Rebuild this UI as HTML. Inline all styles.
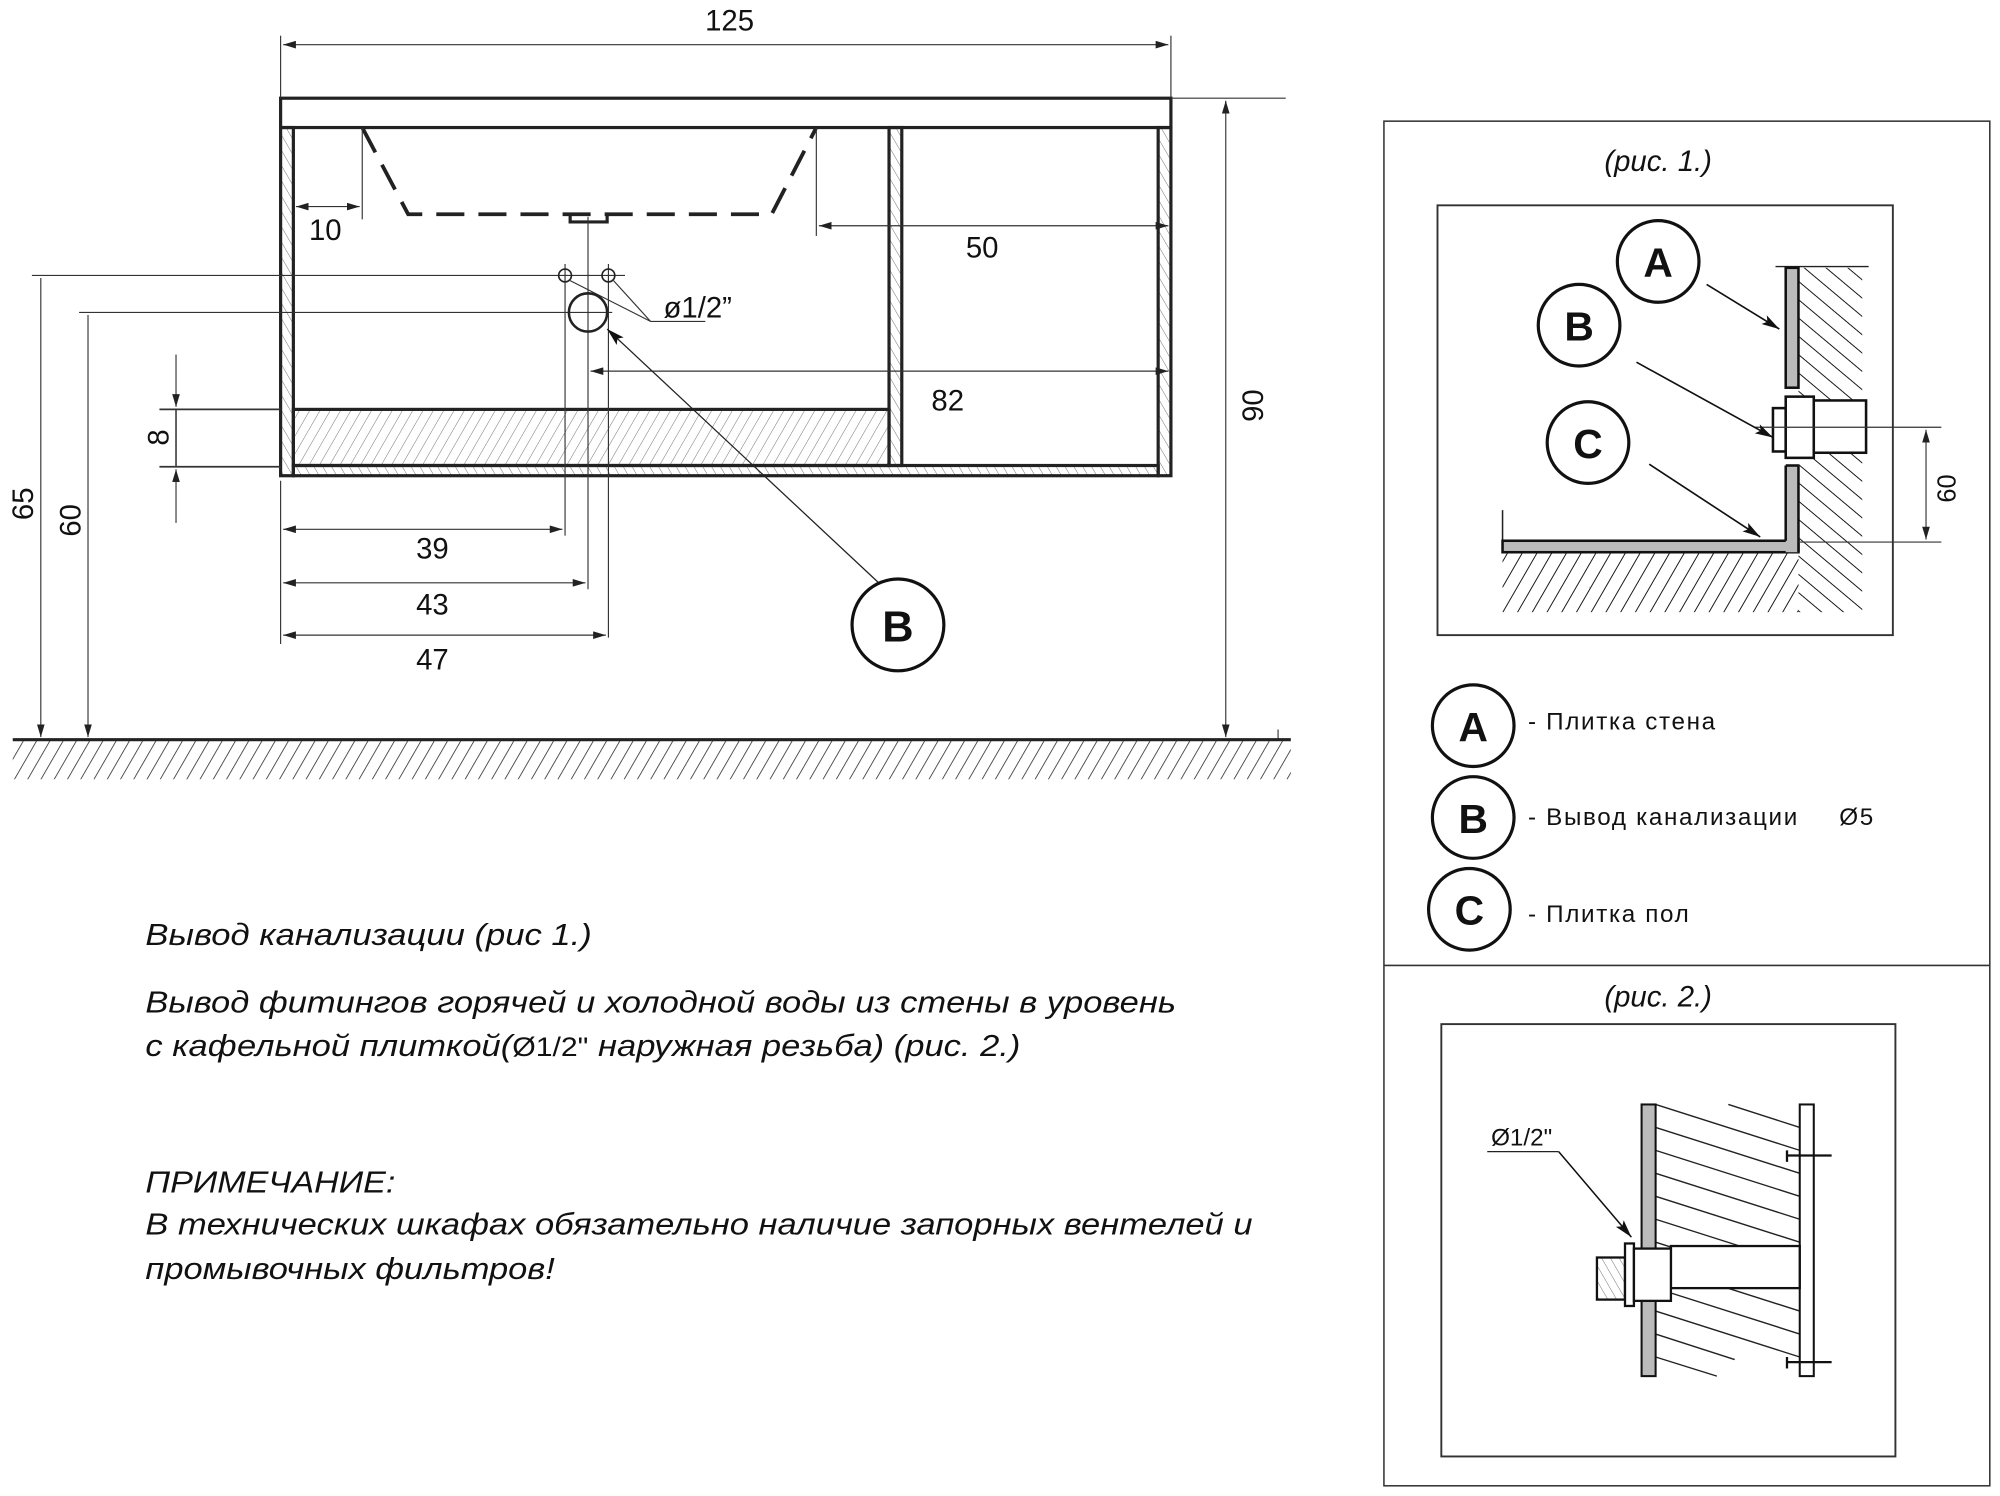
<!DOCTYPE html>
<html><head><meta charset="utf-8"><style>
html,body{margin:0;padding:0;background:#fff;}
svg{display:block;}
text{font-family:"Liberation Sans",sans-serif;fill:#111;}
</style></head><body>
<svg width="2000" height="1496" viewBox="0 0 1568 1173" preserveAspectRatio="none" xmlns="http://www.w3.org/2000/svg">
<defs>
<pattern id="h1" patternUnits="userSpaceOnUse" width="7" height="7" patternTransform="rotate(30)"><line x1="0" y1="0" x2="0" y2="7" stroke="#777" stroke-width="0.8"/></pattern>
<pattern id="h2" patternUnits="userSpaceOnUse" width="6" height="6" patternTransform="rotate(-30)"><line x1="0" y1="0" x2="0" y2="6" stroke="#777" stroke-width="0.8"/></pattern>
<pattern id="hg" patternUnits="userSpaceOnUse" width="9" height="9" patternTransform="rotate(30)"><line x1="0" y1="0" x2="0" y2="9" stroke="#222" stroke-width="1.2"/></pattern>
<pattern id="hw" patternUnits="userSpaceOnUse" width="11" height="11" patternTransform="rotate(-50)"><line x1="0" y1="0" x2="0" y2="11" stroke="#111" stroke-width="1.5"/></pattern>
<pattern id="hf" patternUnits="userSpaceOnUse" width="10" height="10" patternTransform="rotate(30)"><line x1="0" y1="0" x2="0" y2="10" stroke="#111" stroke-width="1.5"/></pattern>
<marker id="a" viewBox="0 0 10 6" refX="10" refY="3" markerWidth="10" markerHeight="6" orient="auto-start-reverse" markerUnits="userSpaceOnUse"><path d="M0,0 L10,3 L0,6z" fill="#222"/></marker>
<marker id="ab" viewBox="0 0 14 8" refX="14" refY="4" markerWidth="14" markerHeight="8" orient="auto" markerUnits="userSpaceOnUse"><path d="M0,0 L14,4 L0,8 L3,4z" fill="#111"/></marker>
</defs>

<!-- cabinet -->
<g stroke="#222" fill="none">
<rect x="220" y="77" width="698" height="23" stroke-width="2.5"/>
<rect x="220" y="100" width="10" height="273" fill="url(#h2)" stroke-width="2.5"/>
<rect x="908" y="100" width="10" height="273" fill="url(#h2)" stroke-width="2.5"/>
<rect x="697" y="100" width="10" height="265" fill="url(#h2)" stroke-width="2.5"/>
<rect x="230" y="321" width="467" height="44" fill="url(#h1)" stroke-width="2.5"/>
<rect x="230" y="365" width="678" height="8" fill="url(#h2)" stroke-width="2.5"/>
<polyline points="284,100 320,168 605,168 640,100" stroke-width="3" stroke-dasharray="22,11"/>
<polyline points="447,168 447,174 476,174 476,168" stroke-width="2.5"/>
</g>

<!-- dimension lines -->
<g stroke="#333" stroke-width="0.9" fill="none">
<line x1="220" y1="28" x2="220" y2="77"/><line x1="918" y1="28" x2="918" y2="77"/>
<line x1="222" y1="35" x2="916" y2="35" marker-start="url(#a)" marker-end="url(#a)"/>
<line x1="284" y1="100" x2="284" y2="172"/>
<line x1="232" y1="162" x2="282" y2="162" marker-start="url(#a)" marker-end="url(#a)"/>
<line x1="640" y1="100" x2="640" y2="185"/>
<line x1="642" y1="177" x2="916" y2="177" marker-start="url(#a)" marker-end="url(#a)"/>
<line x1="25" y1="216" x2="490" y2="216"/>
<line x1="62" y1="245" x2="480" y2="245"/>
<line x1="443" y1="207" x2="443" y2="420"/>
<line x1="461" y1="170" x2="461" y2="462"/>
<line x1="477" y1="207" x2="477" y2="500"/>
<line x1="463" y1="291" x2="916" y2="291" marker-start="url(#a)" marker-end="url(#a)"/>
<line x1="220" y1="377" x2="220" y2="505"/>
<line x1="222" y1="415" x2="441" y2="415" marker-start="url(#a)" marker-end="url(#a)"/>
<line x1="222" y1="457" x2="459" y2="457" marker-start="url(#a)" marker-end="url(#a)"/>
<line x1="222" y1="498" x2="475" y2="498" marker-start="url(#a)" marker-end="url(#a)"/>
<line x1="125" y1="321" x2="220" y2="321" stroke-width="1.4"/>
<line x1="125" y1="366" x2="220" y2="366" stroke-width="1.4"/>
<line x1="138" y1="278" x2="138" y2="319" marker-end="url(#a)"/>
<line x1="138" y1="321" x2="138" y2="366" stroke-width="1.2"/>
<line x1="138" y1="410" x2="138" y2="368" marker-end="url(#a)"/>
<line x1="32" y1="218" x2="32" y2="578" marker-end="url(#a)"/>
<line x1="69" y1="247" x2="69" y2="578" marker-end="url(#a)"/>
<line x1="918" y1="77" x2="1008" y2="77"/>
<line x1="961" y1="79" x2="961" y2="578" marker-start="url(#a)" marker-end="url(#a)"/>
<line x1="1002" y1="572" x2="1002" y2="580"/>
<line x1="447" y1="220" x2="510" y2="252"/><line x1="481" y1="220" x2="510" y2="252"/>
<line x1="510" y1="252" x2="553" y2="252"/>
</g>
<circle cx="443" cy="216" r="5" fill="none" stroke="#222" stroke-width="1.3"/>
<circle cx="477" cy="216" r="5" fill="none" stroke="#222" stroke-width="1.3"/>
<circle cx="461" cy="245" r="15" fill="none" stroke="#222" stroke-width="2"/>
<line x1="690" y1="458" x2="476" y2="258" stroke="#222" stroke-width="1" marker-end="url(#ab)"/>
<circle cx="704" cy="490" r="36" fill="#fff" stroke="#111" stroke-width="2.5"/>
<text x="704" y="503" font-size="34" font-weight="bold" text-anchor="middle">B</text>

<!-- ground -->
<line x1="10" y1="580" x2="1012" y2="580" stroke="#222" stroke-width="2.5"/>
<rect x="10" y="581" width="1002" height="30" fill="url(#hg)"/>

<g font-size="23" text-anchor="middle">
<text x="572" y="24">125</text>
<text x="255" y="188">10</text>
<text x="770" y="202">50</text>
<text x="743" y="322">82</text>
<text x="339" y="438">39</text>
<text x="339" y="482">43</text>
<text x="339" y="525">47</text>
<text x="547" y="249">ø1/2”</text>
<text transform="translate(132,343) rotate(-90)">8</text>
<text transform="translate(26,395) rotate(-90)">65</text>
<text transform="translate(63,408) rotate(-90)">60</text>
<text transform="translate(990,318) rotate(-90)">90</text>
</g>

<!-- left text -->
<g font-size="24" font-style="italic" fill="#222" lengthAdjust="spacingAndGlyphs">
<text x="114" y="741" textLength="350" lengthAdjust="spacingAndGlyphs">Вывод канализации (рис 1.)</text>
<text x="114" y="794" textLength="808" lengthAdjust="spacingAndGlyphs">Вывод фитингов горячей и холодной воды из стены в уровень</text>
<text x="114" y="828" textLength="686" lengthAdjust="spacingAndGlyphs">с кафельной плиткой(<tspan font-style="normal" font-size="21">Ø1/2"</tspan> наружная резьба) (рис. 2.)</text>
<text x="114" y="935" textLength="196" lengthAdjust="spacingAndGlyphs">ПРИМЕЧАНИЕ:</text>
<text x="114" y="968" textLength="868" lengthAdjust="spacingAndGlyphs">В технических шкафах обязательно наличие запорных вентелей и</text>
<text x="114" y="1003" textLength="321" lengthAdjust="spacingAndGlyphs">промывочных фильтров!</text>
</g>

<!-- right panel -->
<rect x="1085" y="95" width="475" height="1070" fill="none" stroke="#333" stroke-width="1.2"/>
<line x1="1085" y1="757" x2="1560" y2="757" stroke="#333" stroke-width="1.2"/>
<text x="1300" y="134" font-size="23" font-style="italic" text-anchor="middle">(рис. 1.)</text>
<text x="1300" y="789" font-size="23" font-style="italic" text-anchor="middle">(рис. 2.)</text>
<rect x="1127" y="161" width="357" height="337" fill="none" stroke="#333" stroke-width="1.5"/>

<!-- fig1 -->
<rect x="1410" y="210" width="50" height="270" fill="url(#hw)"/>
<rect x="1178" y="433" width="232" height="47" fill="url(#hf)"/>
<line x1="1392" y1="209" x2="1465" y2="209" stroke="#222" stroke-width="1"/>
<line x1="1178" y1="400" x2="1178" y2="425" stroke="#222" stroke-width="1.2"/>
<g stroke="#111" stroke-width="2" fill="#bbb">
<rect x="1400" y="210" width="10" height="94"/>
<rect x="1178" y="424" width="232" height="9"/>
<rect x="1400" y="365" width="10" height="68" stroke="none"/>
</g>
<line x1="1400" y1="365" x2="1400" y2="424" stroke="#111" stroke-width="2"/>
<line x1="1410" y1="365" x2="1410" y2="433" stroke="#111" stroke-width="2"/>
<line x1="1400" y1="365" x2="1410" y2="365" stroke="#111" stroke-width="2"/>
<g stroke="#111" stroke-width="2" fill="#fff">
<rect x="1390" y="320" width="10" height="34"/>
<rect x="1400" y="311" width="22" height="48"/>
<rect x="1422" y="314" width="41" height="41"/>
</g>
<g stroke="#333" stroke-width="0.9">
<line x1="1375" y1="335" x2="1522" y2="335"/>
<line x1="1410" y1="425" x2="1522" y2="425"/>
<line x1="1510" y1="337" x2="1510" y2="423" marker-start="url(#a)" marker-end="url(#a)"/>
</g>
<text transform="translate(1533,383) rotate(-90)" font-size="20" text-anchor="middle">60</text>
<g stroke="#111" stroke-width="1.3">
<line x1="1338" y1="223" x2="1395" y2="258" marker-end="url(#ab)"/>
<line x1="1283" y1="284" x2="1390" y2="343" marker-end="url(#ab)"/>
<line x1="1293" y1="364" x2="1380" y2="421" marker-end="url(#ab)"/>
</g>
<g fill="#fff" stroke="#111" stroke-width="2.5">
<circle cx="1300" cy="205" r="32"/><circle cx="1238" cy="255" r="32"/><circle cx="1245" cy="347" r="32"/>
<circle cx="1155" cy="569" r="32"/><circle cx="1155" cy="641" r="32"/><circle cx="1152" cy="713" r="32"/>
</g>
<g font-size="32" font-weight="bold" text-anchor="middle">
<text x="1300" y="217">A</text><text x="1238" y="267">B</text><text x="1245" y="359">C</text>
<text x="1155" y="581">A</text><text x="1155" y="653">B</text><text x="1152" y="725">C</text>
</g>
<g font-size="19" letter-spacing="1.3">
<text x="1198" y="572">- Плитка стена</text>
<text x="1198" y="647">- Вывод канализации <tspan x="1442">Ø5</tspan></text>
<text x="1198" y="723">- Плитка пол</text>
</g>

<!-- fig2 -->
<rect x="1130" y="803" width="356" height="339" fill="none" stroke="#333" stroke-width="1.5"/>
<g stroke="#222" stroke-width="1.1">
<line x1="1298" y1="866" x2="1411" y2="902"/>
<line x1="1355" y1="866" x2="1411" y2="884"/>
<line x1="1298" y1="884" x2="1411" y2="920"/>
<line x1="1298" y1="902" x2="1411" y2="938"/>
<line x1="1298" y1="920" x2="1411" y2="956"/>
<line x1="1298" y1="938" x2="1411" y2="974"/>
<line x1="1298" y1="956" x2="1411" y2="992"/>
<line x1="1298" y1="974" x2="1411" y2="1010"/>
<line x1="1298" y1="992" x2="1411" y2="1028"/>
<line x1="1298" y1="1010" x2="1411" y2="1046"/>
<line x1="1298" y1="1028" x2="1411" y2="1064"/>
<line x1="1298" y1="1046" x2="1360" y2="1066"/>
<line x1="1298" y1="1064" x2="1346" y2="1079"/>
</g>
<rect x="1287" y="866" width="11" height="213" fill="#bbb" stroke="#111" stroke-width="1.6"/>
<rect x="1411" y="866" width="11" height="213" fill="#fff" stroke="#111" stroke-width="1.6"/>
<g stroke="#111" stroke-width="1.8">
<line x1="1401" y1="906" x2="1436" y2="906"/><line x1="1401" y1="902" x2="1401" y2="911"/>
<line x1="1401" y1="1068" x2="1436" y2="1068"/><line x1="1401" y1="1064" x2="1401" y2="1073"/>
</g>
<g stroke="#111" stroke-width="1.8" fill="#fff">
<rect x="1310" y="977" width="101" height="33"/>
<rect x="1252" y="986" width="22" height="33" fill="url(#h2)"/>
<rect x="1274" y="975" width="7" height="49"/>
<rect x="1281" y="979" width="29" height="41"/>
</g>
<line x1="1166" y1="903" x2="1222" y2="903" stroke="#222" stroke-width="1"/>
<line x1="1222" y1="903" x2="1279" y2="970" stroke="#111" stroke-width="1.2" marker-end="url(#ab)"/>
<text x="1169" y="898" font-size="19">Ø1/2"</text>
</svg>
</body></html>
